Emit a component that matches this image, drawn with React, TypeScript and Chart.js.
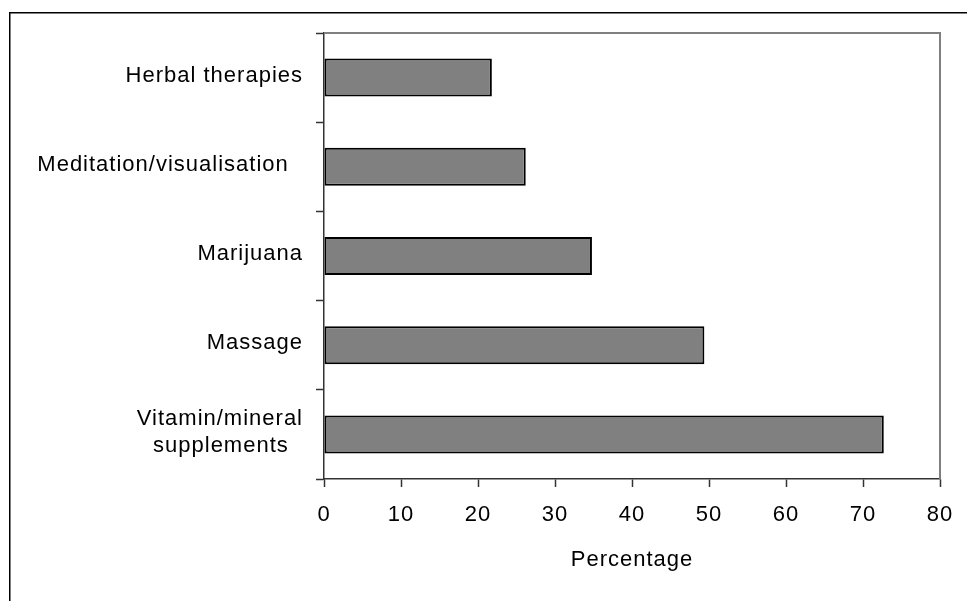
import React, { useEffect, useRef } from 'react';
import { Chart, registerables } from 'chart.js';

Chart.register(...registerables);

const categories: (string | string[])[] = [
  'Herbal therapies',
  'Meditation/visualisation  ',
  'Marijuana',
  'Massage',
  ['Vitamin/mineral', 'supplements  '],
];
const percentages = [21.8, 26.2, 34.8, 49.4, 72.7];
const xMin = 0;
const xMax = 80;
const xStep = 10;
const xTitle = 'Percentage';

const FONT = '"Liberation Sans", Arial, Helvetica, sans-serif';

const framePlugin = {
  id: 'frame',
  beforeLayout(chart: any) {
    chart.ctx.letterSpacing = '1px';
  },
  beforeDraw(chart: any) {
    const ctx = chart.ctx;
    ctx.letterSpacing = '1px';
    ctx.save();
    ctx.strokeStyle = '#000';
    ctx.lineWidth = 1.5;
    ctx.beginPath();
    ctx.moveTo(9.75, chart.height);
    ctx.lineTo(9.75, 12.75);
    ctx.lineTo(chart.width, 12.75);
    ctx.stroke();
    ctx.restore();
  },
  beforeDatasetsDraw(chart: any) {
    const { ctx, chartArea } = chart;
    ctx.save();
    ctx.strokeStyle = '#808080';
    ctx.lineWidth = 2;
    ctx.beginPath();
    ctx.moveTo(chartArea.left, chartArea.top);
    ctx.lineTo(chartArea.right, chartArea.top);
    ctx.lineTo(chartArea.right, chartArea.bottom);
    ctx.stroke();
    ctx.restore();
  },
};

export default function App() {
  const canvasRef = useRef<HTMLCanvasElement | null>(null);

  useEffect(() => {
    const canvas = canvasRef.current;
    if (!canvas) return;
    const chart = new Chart(canvas, {
      type: 'bar',
      data: {
        labels: categories as any,
        datasets: [
          {
            data: percentages,
            backgroundColor: '#808080',
            borderColor: '#000000',
            borderWidth: 2,
            borderSkipped: false,
            barPercentage: 0.426,
            categoryPercentage: 1,
          },
        ],
      },
      options: {
        indexAxis: 'y',
        responsive: false,
        animation: false,
        devicePixelRatio: 1,
        layout: { padding: { top: 33, right: 27, left: 0, bottom: 0 } },
        plugins: {
          legend: { display: false },
          tooltip: { enabled: false },
          title: { display: false },
        },
        scales: {
          x: {
            type: 'linear',
            min: xMin,
            max: xMax,
            ticks: {
              stepSize: xStep,
              color: '#000',
              padding: 15,
              font: { family: FONT, size: 22 },
            },
            grid: {
              drawOnChartArea: false,
              drawTicks: true,
              tickLength: 8,
              tickColor: '#333',
              tickWidth: 1.5,
            },
            border: { display: true, color: '#333', width: 1.5 },
            title: {
              display: true,
              text: xTitle,
              color: '#000',
              font: { family: FONT, size: 22 },
              padding: { top: 0, bottom: 28 },
            },
            afterFit(scale: any) {
              scale.height = 122;
              scale.paddingLeft = 0;
              scale.paddingRight = 0;
            },
          },
          y: {
            type: 'category',
            offset: true,
            ticks: {
              color: '#000',
              padding: 13,
              labelOffset: -2,
              font: { family: FONT, size: 22 },
            },
            grid: {
              offset: true,
              drawOnChartArea: false,
              drawTicks: true,
              tickLength: 8,
              tickColor: '#333',
              tickWidth: 1.5,
            },
            border: { display: true, color: '#333', width: 1.5 },
            afterFit(scale: any) {
              scale.width = 324;
              scale.paddingTop = 0;
              scale.paddingBottom = 0;
            },
          },
        },
      },
      plugins: [framePlugin],
    });
    return () => chart.destroy();
  }, []);

  return (
    <div style={{ position: 'fixed', left: 0, top: 0, width: 967, height: 601, background: '#fff' }}>
      <canvas ref={canvasRef} width={967} height={601} style={{ display: 'block' }} />
    </div>
  );
}
